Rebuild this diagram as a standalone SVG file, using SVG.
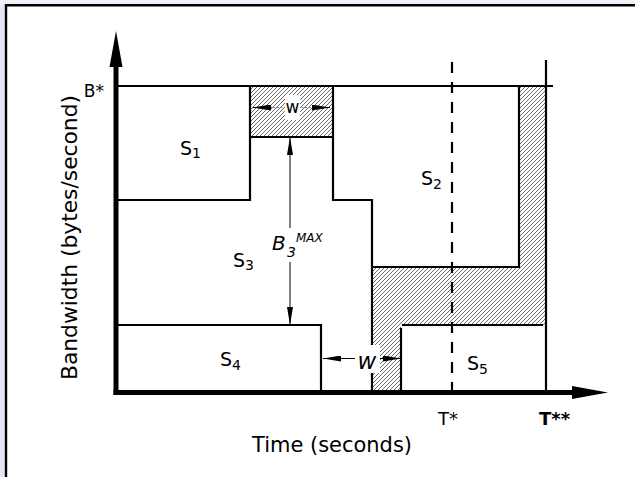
<svg xmlns="http://www.w3.org/2000/svg" width="635" height="477" viewBox="0 0 635 477">
<defs>
<pattern id="hatch" patternUnits="userSpaceOnUse" width="4" height="4">
<rect width="4" height="4" fill="#ffffff"/>
<path d="M-1,1 L1,-1 M0,4 L4,0 M3,5 L5,3" stroke="#5a5a5a" stroke-width="0.9"/>
</pattern>
<marker id="ah" viewBox="0 0 18 6" refX="18" refY="3" markerWidth="18" markerHeight="6" markerUnits="userSpaceOnUse" orient="auto">
<path d="M0,0 L18,3 L0,6 Z" fill="#000"/>
</marker>
</defs>
<style>
.ln{fill:none;stroke:#000;stroke-width:2.2}
.ax{fill:none;stroke:#000;stroke-width:5}
.dim{fill:none;stroke:#000;stroke-width:1}
.t{font-family:"DejaVu Sans","Liberation Sans",sans-serif;fill:#000}
.s{font-size:19px}
.sub{font-size:14px}
</style>
<rect x="0" y="0" width="635" height="477" fill="#ffffff"/>
<rect x="0" y="0" width="6" height="477" fill="#e6e6f8"/>
<rect x="0" y="0" width="635" height="4.5" fill="#f0f0fb"/>
<path d="M6,477 V5.3 H635" fill="none" stroke="#000" stroke-width="2.4"/>

<g id="hatched">
<rect x="250" y="86" width="83" height="51" fill="url(#hatch)"/>
<path d="M519,86 H545 V325 H401 V392 H372 V267 H519 Z" fill="url(#hatch)"/>
</g>

<g id="regions">
<path class="ln" d="M118,86 H553" stroke-width="2"/>
<path class="ln" d="M118,200 H250 V86"/>
<path class="ln" d="M250,137 H333"/>
<path class="ln" d="M333,86 V200 H372 V392"/>
<path class="ln" d="M372,267 H519 V86"/>
<path class="ln" d="M401,328 V392"/>
<path class="ln" d="M402,325 H543"/>
<path class="ln" d="M546,60 V392"/>
<path class="ln" d="M118,325 H321 V392"/>
<path class="ln" d="M452,62 V392" stroke-dasharray="11 9"/>
</g>

<g id="axes">
<path class="ax" d="M116,395 V64"/>
<path d="M116,31 L109.5,67 L122.5,67 Z" fill="#000"/>
<path class="ax" d="M113.5,392.5 H575"/>
<path d="M608,392.5 L572,386 L572,399 Z" fill="#000"/>
</g>

<g id="connectors">
<path class="dim" d="M290,228 V137" marker-end="url(#ah)"/>
<path class="dim" d="M290,262 V325" marker-end="url(#ah)"/>
<path d="M270,107.5 H313" fill="none" stroke="#888" stroke-width="1" stroke-dasharray="2 1.5"/>
<path class="dim" d="M270,107.5 H253" marker-end="url(#ah)" stroke-width="0"/>
<path class="dim" d="M313,107.5 H330" marker-end="url(#ah)" stroke-width="0"/>
<path class="dim" d="M356,358.5 H323" marker-end="url(#ah)"/>
<path class="dim" d="M380,358.5 H401" marker-end="url(#ah)"/>
</g>

<g id="w-top">
<rect x="285" y="95" width="15" height="25" fill="#ffffff"/>
<text class="t" x="292.5" y="113" font-size="17" text-anchor="middle">w</text>
</g>
<g id="w-bottom">
<rect x="355" y="345" width="25" height="28" fill="#ffffff"/>
<text class="t" x="367" y="369" font-size="23" font-style="italic" text-anchor="middle">w</text>
</g>

<g id="B3max">
<text class="t" x="272" y="250" font-size="20" font-style="italic">B</text>
<text class="t" x="287" y="257" font-size="14" font-style="italic">3</text>
<text class="t" x="296" y="242" font-size="12" font-style="italic">MAX</text>
</g>

<g id="S1"><text class="t s" x="180" y="155">S<tspan class="sub" dy="3">1</tspan></text></g>
<g id="S2"><text class="t s" x="421" y="185">S<tspan class="sub" dy="4">2</tspan></text></g>
<g id="S3"><text class="t s" x="233" y="267">S<tspan class="sub" dy="3">3</tspan></text></g>
<g id="S4"><text class="t s" x="220" y="366">S<tspan class="sub" dy="4">4</tspan></text></g>
<g id="S5"><text class="t s" x="467" y="370">S<tspan class="sub" dy="4">5</tspan></text></g>

<g id="labels">
<text class="t" x="104" y="97" font-size="17" text-anchor="end">B*</text>
<text class="t" x="438" y="425" font-size="18">T*</text>
<text class="t" x="539" y="425" font-size="18" font-weight="bold">T**</text>
<text class="t" x="252" y="452" font-size="20.5" textLength="160" lengthAdjust="spacingAndGlyphs">Time (seconds)</text>
<text class="t" x="77" y="237.5" font-size="21" text-anchor="middle" transform="rotate(-90 77 237.5)" textLength="285" lengthAdjust="spacingAndGlyphs">Bandwidth (bytes/second)</text>
</g>
</svg>
